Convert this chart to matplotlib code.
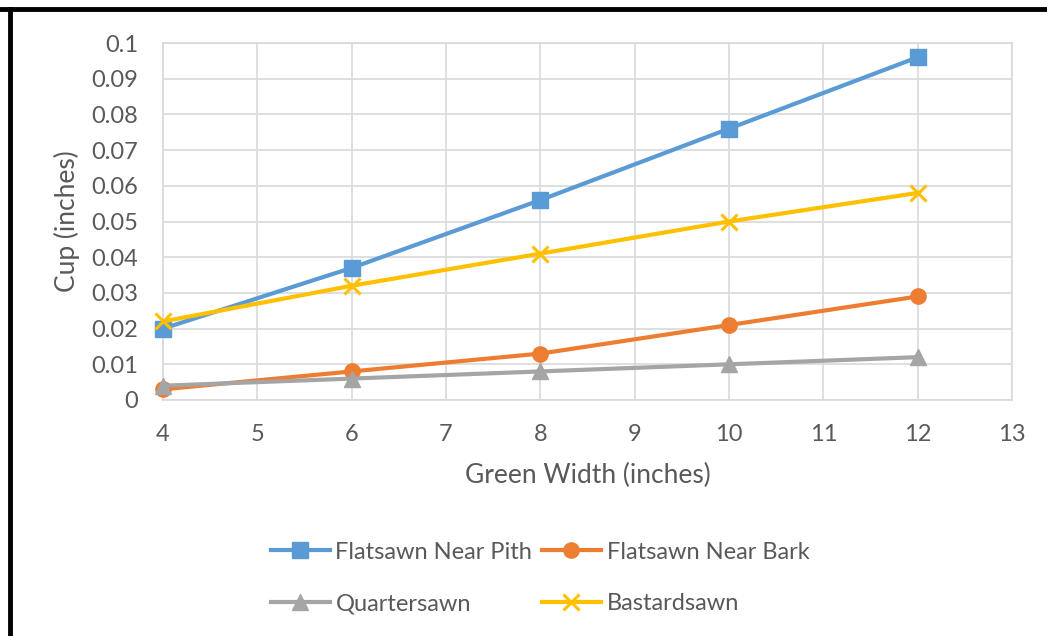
import matplotlib.pyplot as plt
from matplotlib.lines import Line2D

# data
green_width = [4, 6, 8, 10, 12]
near_pith = [0.020, 0.037, 0.056, 0.076, 0.096]
near_bark = [0.003, 0.008, 0.013, 0.021, 0.029]
quartersawn = [0.004, 0.006, 0.008, 0.010, 0.012]
bastardsawn = [0.022, 0.032, 0.041, 0.050, 0.058]

labels = ["Flatsawn Near Pith", "Flatsawn Near Bark", "Quartersawn", "Bastardsawn"]
colors = ["#5B9BD5", "#ED7D31", "#A5A5A5", "#FFC000"]
markers = ["s", "o", "^", "x"]

plt.rcParams['font.family'] = ['Lato', 'DejaVu Sans']
text_col = "#595959"

fig = plt.figure(figsize=(10.47, 6.36), dpi=100)
ax = fig.add_axes([163 / 1047, 1 - 400 / 636, (1012 - 163) / 1047, (400 - 43) / 636])

series = [near_pith, near_bark, quartersawn, bastardsawn]
handles = []
for vals, lab, c, m in zip(series, labels, colors, markers):
    mew = 1 if m != "x" else 2.2
    h, = ax.plot(green_width, vals, color=c, lw=3, marker=m, markersize=11,
                 markeredgewidth=mew, label=lab, zorder=3, clip_on=False)
    handles.append(h)

ax.set_xlim(4, 13)
ax.set_ylim(0, 0.1)
ax.set_xticks(range(4, 14))
ax.set_yticks([i / 100 for i in range(11)])
ax.set_yticklabels(["0"] + [f"{i / 100:g}" for i in range(1, 11)])
ax.grid(True, color="#D9D9D9", lw=1.2)
ax.set_axisbelow(True)
for s in ax.spines.values():
    s.set_color("#D9D9D9")
    s.set_linewidth(1.2)
ax.tick_params(length=0, labelsize=17, colors=text_col)
ax.tick_params(axis="x", pad=17)
ax.tick_params(axis="y", pad=18)

ax.set_xlabel("Green Width (inches)", fontsize=19, color=text_col, labelpad=13)
ax.set_ylabel("Cup (inches)", fontsize=19, color=text_col)
ax.yaxis.set_label_coords((80 - 163) / 849, 0.5)

# legend: 2 x 2, filled row-wise like the original (matplotlib fills by column)
order = [0, 2, 1, 3]
leg = fig.legend([handles[i] for i in order], [labels[i] for i in order],
                 ncol=2, loc="center", bbox_to_anchor=(540 / 1047, 1 - 578 / 636),
                 frameon=False, fontsize=17, handlelength=2.5, handletextpad=0.25,
                 columnspacing=0.4, labelspacing=1.3, labelcolor=text_col)

# black border along the top and left of the screenshot
fig.add_artist(Line2D([0, 1], [1 - 9 / 636] * 2, color="black", lw=3.5))
fig.add_artist(Line2D([9.5 / 1047] * 2, [0, 1 - 9 / 636], color="black", lw=3.5))

fig.savefig("out.png", dpi=100)
